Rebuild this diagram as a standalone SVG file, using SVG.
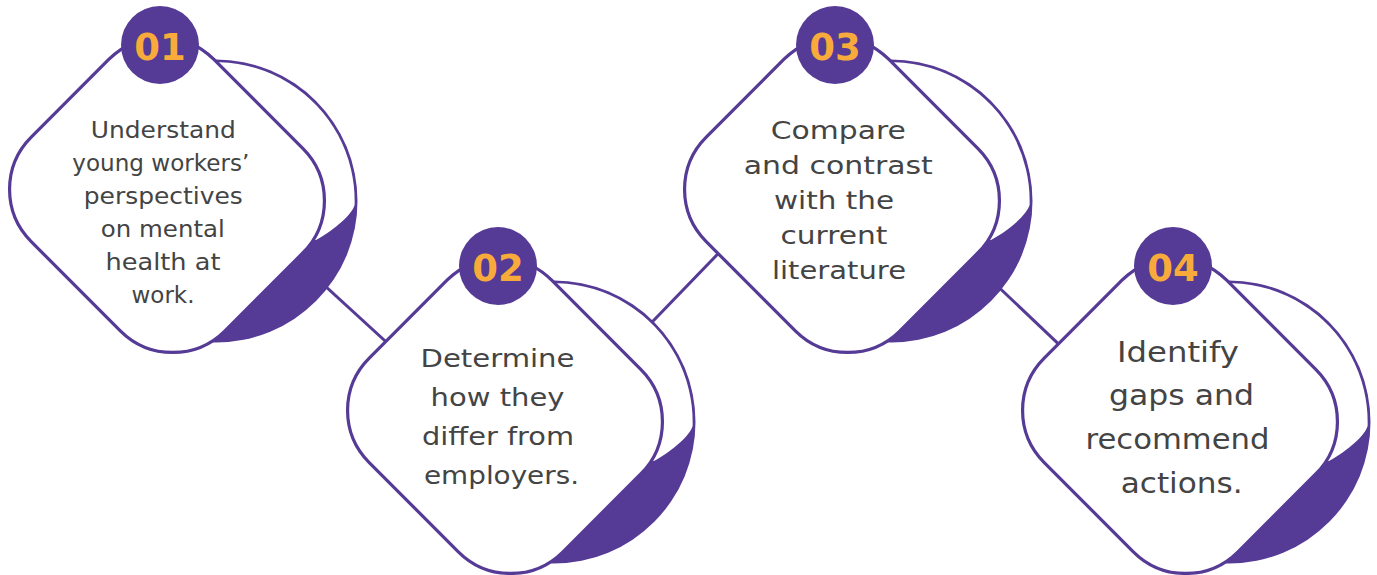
<svg xmlns="http://www.w3.org/2000/svg" xmlns:xlink="http://www.w3.org/1999/xlink" width="1377" height="575" viewBox="0 0 1377 575">
  <style>
    .link { stroke: #553A96; stroke-width: 3; fill: none; }
    .label { font-family: "DejaVu Sans", "Liberation Sans", sans-serif; fill: #444444; text-anchor: middle; }
    .num { font-family: "DejaVu Sans", "Liberation Sans", sans-serif; font-weight: bold; font-size: 37px; fill: #F8AB3A; text-anchor: middle; }
    .badge { fill: #553A96; }
  </style>
  <defs>
    <!-- one step card: curled disc behind a rounded diamond, plus the number badge -->
    <g id="card">
      <circle cx="216" cy="201" r="141.5" fill="#553A96"/>
      <path d="M150,79 A138.7 138.7 0 0 1 354.6,205 C352,214 336,229 316,240 L200,250 Z" fill="#ffffff"/>
      <rect x="-137" y="-129" width="274" height="258" rx="74" ry="74"
            transform="translate(167 195) rotate(45)"
            fill="#ffffff" stroke="#553A96" stroke-width="3.2"/>
      <circle class="badge" cx="160" cy="45" r="39"/>
    </g>
  </defs>

  <rect width="1377" height="575" fill="#ffffff"/>

  <g id="connectors">
    <line class="link" x1="288" y1="252" x2="395" y2="350"/>
    <line class="link" x1="600" y1="376" x2="740" y2="231"/>
    <line class="link" x1="970" y1="260" x2="1075" y2="359.6"/>
  </g>

  <g id="step1">
    <use xlink:href="#card"/>
    <text class="num" x="160" y="60">01</text>
    <g class="label" font-size="23.5">
      <text x="163.3" y="138" textLength="145" lengthAdjust="spacingAndGlyphs">Understand</text>
      <text x="160.8" y="171" textLength="177" lengthAdjust="spacingAndGlyphs">young workers’</text>
      <text x="163.3" y="204" textLength="159" lengthAdjust="spacingAndGlyphs">perspectives</text>
      <text x="162.8" y="237" textLength="124" lengthAdjust="spacingAndGlyphs">on mental</text>
      <text x="163" y="270" textLength="115" lengthAdjust="spacingAndGlyphs">health at</text>
      <text x="163" y="303" textLength="63" lengthAdjust="spacingAndGlyphs">work.</text>
    </g>
  </g>

  <g id="step2">
    <use xlink:href="#card" transform="translate(338 221)"/>
    <text class="num" x="498" y="281">02</text>
    <g class="label" font-size="25">
      <text x="497.5" y="367" textLength="154" lengthAdjust="spacingAndGlyphs">Determine</text>
      <text x="497.5" y="406" textLength="134" lengthAdjust="spacingAndGlyphs">how they</text>
      <text x="498" y="445" textLength="152" lengthAdjust="spacingAndGlyphs">differ from</text>
      <text x="501.5" y="484" textLength="155" lengthAdjust="spacingAndGlyphs">employers.</text>
    </g>
  </g>

  <g id="step3">
    <use xlink:href="#card" transform="translate(675 0)"/>
    <text class="num" x="835" y="60">03</text>
    <g class="label" font-size="25.5">
      <text x="838.3" y="138.5" textLength="135" lengthAdjust="spacingAndGlyphs">Compare</text>
      <text x="838.3" y="173.5" textLength="189" lengthAdjust="spacingAndGlyphs">and contrast</text>
      <text x="834" y="208.5" textLength="120" lengthAdjust="spacingAndGlyphs">with the</text>
      <text x="834" y="243.5" textLength="107" lengthAdjust="spacingAndGlyphs">current</text>
      <text x="839" y="278.5" textLength="134" lengthAdjust="spacingAndGlyphs">literature</text>
    </g>
  </g>

  <g id="step4">
    <use xlink:href="#card" transform="translate(1013 221)"/>
    <text class="num" x="1173" y="281">04</text>
    <g class="label" font-size="28.5">
      <text x="1178" y="361.5" textLength="122" lengthAdjust="spacingAndGlyphs">Identify</text>
      <text x="1181.5" y="405" textLength="145" lengthAdjust="spacingAndGlyphs">gaps and</text>
      <text x="1177.5" y="449" textLength="184" lengthAdjust="spacingAndGlyphs">recommend</text>
      <text x="1181.7" y="493" textLength="122" lengthAdjust="spacingAndGlyphs">actions.</text>
    </g>
  </g>
</svg>
